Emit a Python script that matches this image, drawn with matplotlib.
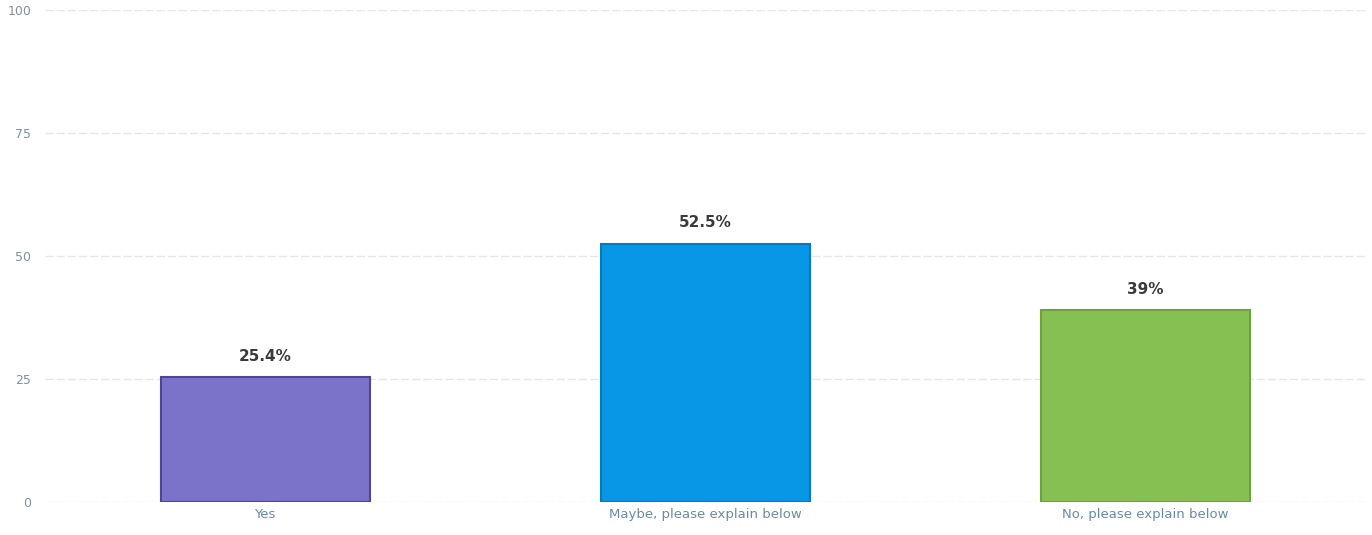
import matplotlib
matplotlib.use("Agg")
import matplotlib.pyplot as plt

categories = ["Yes", "Maybe, please explain below", "No, please explain below"]
percentages = [25.4, 52.5, 39.0]
value_labels = ["25.4%", "52.5%", "39%"]
y_ticks = [0, 25, 50, 75, 100]

bar_colors = ["#7b73c9", "#0896e6", "#87c052"]
edge_colors = ["#4f4596", "#0a78bf", "#6ea23c"]

fig = plt.figure(figsize=(13.72, 5.35), dpi=100)
ax = fig.add_axes([45 / 1372, 33 / 535, 1320 / 1372, 492 / 535])

x = range(len(categories))
bars = ax.bar(x, percentages, width=0.475, color=bar_colors,
              edgecolor=edge_colors, linewidth=1.5, zorder=3)

for bar, label in zip(bars, value_labels):
    ax.text(bar.get_x() + bar.get_width() / 2, bar.get_height() + 2.7, label,
            ha="center", va="bottom", fontsize=11, fontweight="bold",
            color="#3a3a3a")

ax.set_xlim(-0.5, 2.5)
ax.set_ylim(0, 100)
ax.set_yticks(y_ticks)
ax.set_yticklabels([str(t) for t in y_ticks])
ax.set_xticks(list(x))
ax.set_xticklabels(categories)

ax.grid(axis="y", color="#e6e6e6", linewidth=1, linestyle=(0, (6, 2)), zorder=0)
for side in ["top", "right", "left", "bottom"]:
    ax.spines[side].set_visible(False)

ax.tick_params(axis="y", length=0, pad=10, labelsize=9, labelcolor="#8090a0")
ax.tick_params(axis="x", length=0, pad=4, labelsize=9.5, labelcolor="#6a8aa0")

fig.savefig("out.png", dpi=100, facecolor="white")
